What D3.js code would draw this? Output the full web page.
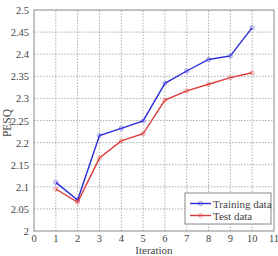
<!DOCTYPE html>
<html>
<head>
<meta charset="utf-8">
<script src="https://cdn.jsdelivr.net/npm/d3@7"></script>
<style>
  body { margin: 0; background: #fff; }
  text { font-family: "Liberation Serif", "DejaVu Serif", serif; fill: #444; }
</style>
</head>
<body>
<div class="container"></div>
<script>
// chart data
var iterations = [1, 2, 3, 4, 5, 6, 7, 8, 9, 10];
var trainingData = [2.11, 2.07, 2.216, 2.232, 2.249, 2.334, 2.362, 2.388, 2.396, 2.46];
var testData = [2.095, 2.065, 2.165, 2.204, 2.22, 2.296, 2.317, 2.332, 2.347, 2.358];
var xTicks = [0, 1, 2, 3, 4, 5, 6, 7, 8, 9, 10, 11];
var yTicks = [2, 2.05, 2.1, 2.15, 2.2, 2.25, 2.3, 2.35, 2.4, 2.45, 2.5];
var seriesNames = ["Training data", "Test data"];
var seriesColors = ["#2b2bdb", "#e03a3a"];

var width = 278, height = 256;
var margin = {left: 34, right: 4, top: 10, bottom: 25};

var svg = d3.select(".container")
    .append("svg")
    .attr("width", width)
    .attr("height", height);

var x = d3.scaleLinear().domain([0, 11]).range([margin.left, width - margin.right]);
var y = d3.scaleLinear().domain([2, 2.5]).range([height - margin.bottom, margin.top]);

// grid
svg.append("g").selectAll("line.gx")
    .data(xTicks.slice(1, -1))
    .enter().append("line")
    .attr("x1", d => x(d)).attr("x2", d => x(d))
    .attr("y1", y(2)).attr("y2", y(2.5))
    .attr("stroke", "#999").attr("stroke-width", 0.8)
    .attr("stroke-dasharray", "1.5,1.5");
svg.append("g").selectAll("line.gy")
    .data(yTicks.slice(1, -1))
    .enter().append("line")
    .attr("x1", x(0)).attr("x2", x(11))
    .attr("y1", d => y(d)).attr("y2", d => y(d))
    .attr("stroke", "#999").attr("stroke-width", 0.8)
    .attr("stroke-dasharray", "1.5,1.5");

// frame
svg.append("rect")
    .attr("x", x(0)).attr("y", y(2.5))
    .attr("width", x(11) - x(0)).attr("height", y(2) - y(2.5))
    .attr("fill", "none").attr("stroke", "#888").attr("stroke-width", 1);

// tick labels
svg.append("g").selectAll("text")
    .data(xTicks)
    .enter().append("text")
    .attr("x", d => x(d)).attr("y", y(2) + 10.5)
    .attr("text-anchor", "middle")
    .attr("font-size", 10.5)
    .text(d => d);
svg.append("g").selectAll("text")
    .data(yTicks)
    .enter().append("text")
    .attr("x", x(0) - 5).attr("y", d => y(d) + 4)
    .attr("text-anchor", "end")
    .attr("font-size", 10.5)
    .text(d => d);

// axis titles
svg.append("text")
    .attr("x", (x(0) + x(11)) / 2).attr("y", height - 2.5)
    .attr("text-anchor", "middle").attr("font-size", 11)
    .text("Iteration");
svg.append("text")
    .attr("transform", "translate(10.5,123) rotate(-90)")
    .attr("text-anchor", "middle").attr("font-size", 11.5)
    .text("PESQ");

// series
var line = d3.line().x((d, i) => x(iterations[i])).y(d => y(d));
[trainingData, testData].forEach(function(values, s) {
    svg.append("path")
        .datum(values)
        .attr("d", line)
        .attr("fill", "none")
        .attr("stroke", seriesColors[s])
        .attr("stroke-width", 1.4);
    svg.append("g").selectAll("circle")
        .data(values)
        .enter().append("circle")
        .attr("cx", (d, i) => x(iterations[i]))
        .attr("cy", d => y(d))
        .attr("r", 2)
        .attr("fill", "none")
        .attr("stroke", seriesColors[s])
        .attr("stroke-opacity", 0.6)
        .attr("stroke-width", 0.8);
});

// legend
var legend = svg.append("g");
legend.append("rect")
    .attr("x", 185).attr("y", 193)
    .attr("width", 86).attr("height", 31)
    .attr("fill", "#fff").attr("stroke", "#888").attr("stroke-width", 1);
seriesNames.forEach(function(name, s) {
    var ly = 203.5 + s * 12;
    legend.append("line")
        .attr("x1", 190).attr("x2", 211)
        .attr("y1", ly).attr("y2", ly)
        .attr("stroke", seriesColors[s]).attr("stroke-width", 1.4);
    legend.append("circle")
        .attr("cx", 200.5).attr("cy", ly).attr("r", 2)
        .attr("fill", "none").attr("stroke", seriesColors[s])
        .attr("stroke-opacity", 0.6).attr("stroke-width", 0.8);
    legend.append("text")
        .attr("x", 213).attr("y", ly + 4)
        .attr("font-size", 11)
        .text(name);
});
</script>
</body>
</html>
